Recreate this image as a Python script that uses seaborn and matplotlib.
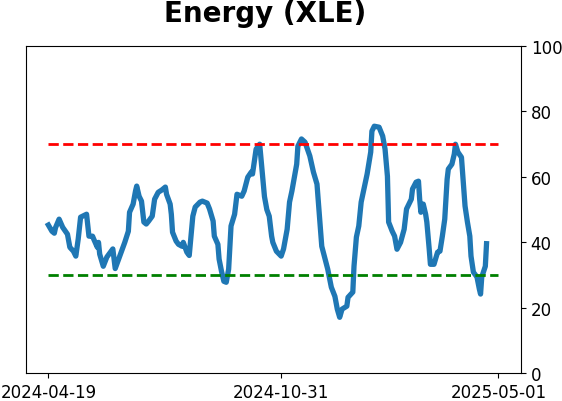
import pandas as pd
import seaborn as sns
import matplotlib.pyplot as plt
import matplotlib.dates as mdates

# dates / values
dates = [
    "2024-04-19", "2024-04-22", "2024-04-24", "2024-04-25", "2024-04-28",
    "2024-05-01", "2024-05-05", "2024-05-07", "2024-05-10", "2024-05-12",
    "2024-05-14", "2024-05-16", "2024-05-21", "2024-05-23", "2024-05-26",
    "2024-05-27", "2024-05-30", "2024-05-31", "2024-06-01", "2024-06-04",
    "2024-06-07", "2024-06-10", "2024-06-12", "2024-06-14", "2024-06-16",
    "2024-06-20", "2024-06-22", "2024-06-25", "2024-06-26", "2024-06-29",
    "2024-07-01", "2024-07-02", "2024-07-04", "2024-07-06", "2024-07-08",
    "2024-07-10", "2024-07-12", "2024-07-15", "2024-07-17", "2024-07-20",
    "2024-07-23", "2024-07-26", "2024-07-27", "2024-07-30", "2024-07-31",
    "2024-08-01", "2024-08-04", "2024-08-06", "2024-08-09", "2024-08-10",
    "2024-08-13", "2024-08-15", "2024-08-18", "2024-08-20", "2024-08-24",
    "2024-08-26", "2024-08-30", "2024-09-01", "2024-09-04", "2024-09-05",
    "2024-09-08", "2024-09-09", "2024-09-11", "2024-09-13", "2024-09-15",
    "2024-09-17", "2024-09-19", "2024-09-22", "2024-09-24", "2024-09-28",
    "2024-09-30", "2024-10-03", "2024-10-06", "2024-10-07", "2024-10-10",
    "2024-10-13", "2024-10-15", "2024-10-17", "2024-10-19", "2024-10-21",
    "2024-10-23", "2024-10-24", "2024-10-27", "2024-10-31", "2024-11-02",
    "2024-11-05", "2024-11-07", "2024-11-09", "2024-11-13", "2024-11-14",
    "2024-11-17", "2024-11-20", "2024-11-24", "2024-11-27", "2024-11-30",
    "2024-12-04", "2024-12-09", "2024-12-12", "2024-12-15", "2024-12-17",
    "2024-12-19", "2024-12-21", "2024-12-25", "2024-12-26", "2024-12-30",
    "2024-12-31", "2025-01-02", "2025-01-04", "2025-01-06", "2025-01-08",
    "2025-01-11", "2025-01-14", "2025-01-15", "2025-01-17", "2025-01-21",
    "2025-01-24", "2025-01-26", "2025-01-28", "2025-01-29", "2025-02-01",
    "2025-02-03", "2025-02-05", "2025-02-08", "2025-02-11", "2025-02-13",
    "2025-02-17", "2025-02-18", "2025-02-21", "2025-02-23", "2025-02-24",
    "2025-02-25", "2025-02-27", "2025-03-01", "2025-03-02", "2025-03-04",
    "2025-03-05", "2025-03-08", "2025-03-11", "2025-03-13", "2025-03-15",
    "2025-03-17", "2025-03-19", "2025-03-20", "2025-03-23", "2025-03-25",
    "2025-03-26", "2025-03-28", "2025-03-31", "2025-04-03", "2025-04-05",
    "2025-04-07", "2025-04-08", "2025-04-10", "2025-04-13", "2025-04-15",
    "2025-04-16", "2025-04-17", "2025-04-20", "2025-04-21",
]
values = [
    45.3, 43.4, 42.8, 44.5, 47.1,
    44.6, 42.5, 38.5, 37.3, 35.8,
    41.0, 47.7, 48.6, 41.9, 41.9,
    41.0, 38.5, 40.0, 36.4, 32.7,
    35.5, 37.0, 38.0, 32.0, 34.0,
    38.0, 40.0, 43.4, 49.2, 51.7,
    55.7, 57.2, 54.1, 52.6, 46.2,
    45.6, 46.5, 48.0, 53.2, 55.3,
    56.0, 56.9, 54.7, 51.7, 48.6,
    43.1, 40.4, 39.4, 38.8, 40.0,
    37.0, 36.0, 48.0, 50.8, 52.3,
    52.6, 52.0, 50.2, 46.5, 41.9,
    39.4, 34.9, 31.2, 28.1, 27.8,
    31.8, 45.0, 48.6, 54.7, 54.1,
    55.7, 59.9, 61.5, 60.9, 68.5,
    70.0, 62.0, 54.0, 50.0, 48.0,
    41.9, 40.0, 37.3, 35.8, 38.0,
    44.0, 52.3, 55.7, 63.9, 69.4,
    71.6, 70.6, 66.4, 61.5, 57.8,
    38.8, 31.8, 26.3, 23.5, 19.6,
    17.1, 19.6, 20.5, 23.2, 24.8,
    32.7, 41.6, 45.0, 52.3, 55.7,
    60.9, 67.6, 74.0, 75.5, 75.2,
    72.5, 68.5, 60.2, 46.2, 43.4,
    41.9, 37.9, 40.0, 44.0, 50.2,
    53.2, 56.3, 58.4, 58.7, 53.2,
    49.2, 51.7, 48.6, 46.2, 37.9,
    33.3, 33.3, 37.0, 37.3, 41.9,
    47.1, 59.3, 62.4, 63.9, 67.0,
    70.0, 67.6, 66.0, 51.1, 46.2,
    41.9, 35.8, 30.9, 29.4, 25.7,
    24.2, 29.4, 32.7, 39.6,
]

band_start = "2024-04-19"
band_end = "2025-05-01"
upper_level = 70
lower_level = 30
tick_dates = ["2024-04-19", "2024-10-31", "2025-05-01"]

df = pd.DataFrame({"date": pd.to_datetime(dates), "value": values})

fig, ax = plt.subplots(figsize=(5.62, 4.02), dpi=100)
fig.subplots_adjust(left=0.046, right=0.927, bottom=0.069, top=0.883)

sns.lineplot(data=df, x="date", y="value", ax=ax, color="#1f77b4", linewidth=3.8)

band_x = pd.to_datetime([band_start, band_end])
ax.plot(band_x, [upper_level, upper_level], color="red", linestyle="--", linewidth=2)
ax.plot(band_x, [lower_level, lower_level], color="green", linestyle="--", linewidth=2)

ax.set_ylim(0, 100)
ax.yaxis.tick_right()
ax.set_yticks([0, 20, 40, 60, 80, 100])
ax.set_xticks(pd.to_datetime(tick_dates))
ax.xaxis.set_major_formatter(mdates.DateFormatter("%Y-%m-%d"))
ax.tick_params(labelsize=12)
ax.set_xlabel("")
ax.set_ylabel("")

title = ax.set_title("Energy (XLE)", fontsize=20, fontweight="bold", pad=18)
title.set_x(0.483)

fig.savefig("out.png", dpi=100)
